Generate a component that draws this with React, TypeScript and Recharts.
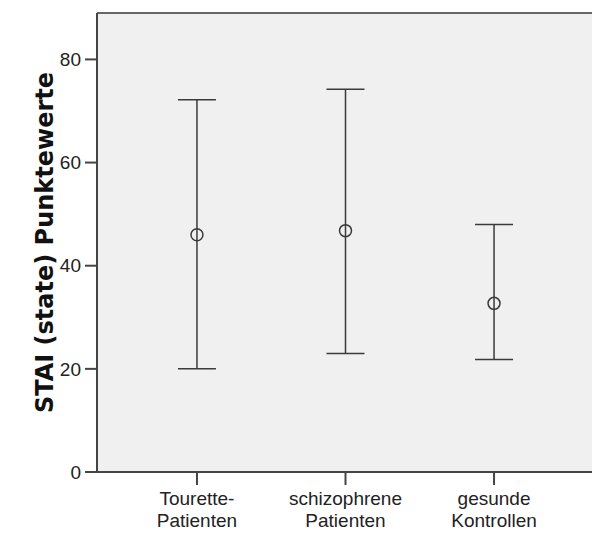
import { ScatterChart, Scatter, XAxis, YAxis, ErrorBar, CartesianGrid, ReferenceLine } from "recharts";

// Gruppen (x-Achse) und Werte: Mittelwert mit Fehlerbalken
const groups = [
  ["Tourette-", "Patienten"],
  ["schizophrene", "Patienten"],
  ["gesunde", "Kontrollen"],
];
const means = [46, 46.8, 32.7];
const lows = [20, 23, 21.8];
const highs = [72.2, 74.2, 48];
const yTicks = [0, 20, 40, 60, 80];

const data = means.map((m, i) => ({
  pos: i + 1,
  mean: m,
  err: [m - lows[i], highs[i] - m],
}));

const AXIS = "#444";
const MARK = "#3a3a3a";

function GroupTick(props: any) {
  const { x, y, payload } = props;
  const lines = groups[payload.value - 1] || [];
  return (
    <text x={x} y={y} textAnchor="middle" fill="#222" fontSize={19} fontFamily="'Liberation Sans', Arial, sans-serif">
      <tspan x={x} dy="0.71em">{lines[0]}</tspan>
      <tspan x={x} dy="1.12em">{lines[1]}</tspan>
    </text>
  );
}

function YTitle(props: any) {
  const vb = props.viewBox || { x: 0, y: 0, width: 0, height: 0 };
  const cx = vb.x + 37;
  const cy = vb.y + vb.height / 2;
  return (
    <text
      x={cx}
      y={cy}
      transform={`rotate(-90 ${cx} ${cy})`}
      textAnchor="middle"
      dominantBaseline="central"
      fontSize={24}
      fontWeight="bold"
      fontFamily="'DejaVu Sans', sans-serif"
      fill="#111"
    >
      STAI (state) Punktewerte
    </text>
  );
}

const Dot = (props: any) => {
  const { cx, cy } = props;
  return <circle cx={cx} cy={cy} r={6} fill="none" stroke={MARK} strokeWidth={1.5} />;
};

export default function App() {
  return (
    <div style={{ width: 584, height: 528, overflow: "hidden" }}>
      <style>{"html,body{overflow:hidden} body{margin:8px 0 0 8px}"}</style>
      <ScatterChart width={600} height={528} margin={{ top: 5, right: 14, bottom: 0, left: 0 }}>
        <CartesianGrid fill="#f0f0f0" stroke="none" horizontal={false} vertical={false} />
        <XAxis
          type="number"
          dataKey="pos"
          domain={[0.327, 3.673]}
          ticks={[1, 2, 3]}
          allowDataOverflow
          height={64}
          tick={<GroupTick />}
          tickSize={13}
          tickMargin={7}
          axisLine={{ stroke: AXIS, strokeWidth: 2 }}
          tickLine={{ stroke: AXIS, strokeWidth: 2 }}
        />
        <YAxis
          type="number"
          dataKey="mean"
          domain={[0, 89]}
          ticks={yTicks}
          allowDataOverflow
          width={89}
          tickSize={12}
          tickMargin={4}
          tick={{ fontSize: 19, fill: "#222", fontFamily: "'Liberation Sans', Arial, sans-serif" }}
          axisLine={{ stroke: AXIS, strokeWidth: 2 }}
          tickLine={{ stroke: AXIS, strokeWidth: 2 }}
          label={<YTitle />}
        />
        <ReferenceLine y={89} stroke="#666" strokeWidth={2} />
        <Scatter data={data} shape={<Dot />} isAnimationActive={false}>
          <ErrorBar dataKey="err" direction="y" width={19} stroke={MARK} strokeWidth={1.5} isAnimationActive={false} />
        </Scatter>
      </ScatterChart>
    </div>
  );
}
